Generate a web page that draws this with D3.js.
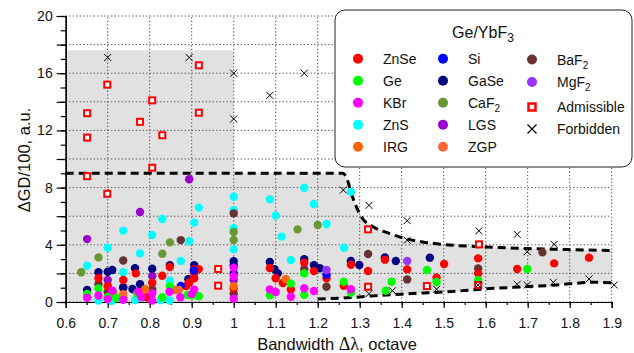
<!DOCTYPE html>
<html><head><meta charset="utf-8">
<script src="https://cdn.jsdelivr.net/npm/d3@7"></script>
<style>body{margin:0;background:#fff}svg{display:block;font-family:Arial,"Liberation Sans",sans-serif}</style>
</head><body><svg id="c" width="634" height="353"></svg>
<script>
// ---- data ----
const xTickValues = [0.6,0.7,0.8,0.9,1.0,1.1,1.2,1.3,1.4,1.5,1.6,1.7,1.8,1.9];
const xTickLabels = ["0.6","0.7","0.8","0.9","1","1.1","1.2","1.3","1.4","1.5","1.6","1.7","1.8","1.9"];
const yTickValues = [0,4,8,12,16,20];
const yTickLabels = ["0","4","8","12","16","20"];

const ZnSe = [[0.678,1.66],[0.70,1.1],[0.737,1.54],[0.767,2.0],[0.806,1.35],[0.793,0.33],[0.83,1.84],[0.848,2.45],[0.887,1.12],[0.894,1.35],[0.906,2.3],[0.917,2.3],[0.906,1.66],[0.906,2.0],[1.0,0.95],[1.086,2.38],[1.1,1.66],[1.117,1.33],[1.136,0.88],[1.168,2.75],[1.191,2.16],[1.221,1.66],[1.262,1.14],[1.279,2.6],[1.32,2.17],[1.36,2.96],[1.413,2.28],[1.483,1.7],[1.501,2.66],[1.582,3.05],[1.582,2.0],[1.582,1.3],[1.675,2.31],[1.763,2.7],[1.846,3.1]];
const Ge = [[0.651,0.56],[0.678,0.95],[0.70,0.35],[0.72,0.3],[0.77,0.6],[0.83,0.33],[0.848,1.1],[0.89,0.5],[0.917,0.4],[0.9,0.45],[1.086,0.47],[1.136,1.3],[1.168,2.0],[1.168,0.5],[1.262,1.42],[1.279,0.65],[1.362,0.79],[1.376,1.42],[1.46,2.24],[1.483,1.4],[1.582,1.53],[1.699,2.31]];
const KBr = [[0.651,0.3],[0.678,0.45],[0.70,0.2],[0.711,0.79],[0.737,0.15],[0.773,0.72],[0.78,0.35],[0.806,0.6],[0.806,0.1],[0.847,0.72],[0.873,0.33],[0.9,0.55],[0.906,0.86],[1.0,2.4],[1.0,1.8],[1.0,0.23],[1.086,0.88],[1.1,0.7],[1.136,0.37],[1.168,0.96],[1.191,0.77],[1.279,0.89]];
const ZnS = [[0.651,2.54],[0.678,0.1],[0.70,3.8],[0.709,0.07],[0.737,4.99],[0.737,2.08],[0.765,0.14],[0.777,3.4],[0.806,4.69],[0.826,0.14],[0.83,5.8],[0.848,1.5],[0.847,0.1],[0.874,2.87],[0.894,4.25],[0.906,5.55],[0.917,6.6],[1.0,7.36],[1.0,6.43],[1.0,5.16],[1.0,3.68],[1.086,7.18],[1.1,6.04],[1.114,4.57],[1.136,2.94],[1.168,7.99],[1.191,6.85],[1.221,5.45],[1.263,3.8],[1.279,7.7]];
const IRG = [[0.713,0.65],[0.789,0.89],[0.86,0.84],[1.0,1.1],[1.124,1.59]];
const Si = [[0.874,1.12],[0.905,2.2],[1.221,1.9]];
const GaSe = [[0.651,0.84],[0.678,2.08],[0.70,2.12],[0.711,2.24],[0.737,1.0],[0.759,0.91],[0.765,2.36],[0.777,1.24],[0.806,2.33],[0.848,2.58],[0.892,1.59],[0.906,2.58],[1.0,2.86],[1.0,2.58],[1.0,2.0],[1.086,2.8],[1.097,2.3],[1.105,2.0],[1.168,3.0],[1.191,2.58],[1.205,2.36],[1.279,2.87],[1.299,2.59],[1.36,3.12],[1.386,2.87],[1.467,3.1]];
const CaF2 = [[0.637,2.08],[0.678,3.12],[0.83,3.38],[0.848,4.17],[1.0,4.9],[1.0,4.33],[1.152,5.08],[1.2,5.38]];
const LGS = [[0.651,4.4],[0.777,6.3],[0.894,8.58],[0.70,1.54],[0.806,1.82],[1.0,1.54],[0.737,1.05]];
const ZGP = [[0.87,0.85],[0.737,0.55]];
const BaF2 = [[0.678,1.24],[0.70,0.7],[0.737,2.9],[0.737,0.3],[0.806,0.88],[0.874,4.33],[1.0,6.2],[1.0,0.58],[1.168,2.3],[1.221,1.07],[1.32,3.36],[1.413,1.58],[1.582,2.35],[1.735,3.47]];
const MgF2 = [[1.221,2.24],[1.413,2.87]];
const admissible = [[0.651,13.2],[0.651,11.5],[0.699,15.2],[0.777,12.6],[0.806,14.1],[0.83,11.66],[0.917,16.55],[0.917,13.24],[0.806,9.39],[0.651,8.8],[0.699,7.57],[0.963,2.31],[0.963,1.14],[1.32,5.08],[1.32,1.07],[1.46,1.12],[1.584,4.03],[1.582,1.19]];
const forbidden = [[0.70,17.1],[0.894,17.1],[1.0,16.0],[1.0,12.8],[1.086,14.45],[1.168,16.0],[1.261,7.83],[1.322,6.76],[1.413,5.69],[1.413,4.32],[1.584,4.98],[1.675,4.73],[1.699,3.52],[1.763,4.03],[1.675,1.24],[1.699,1.19],[1.761,1.38],[1.846,1.61],[1.906,1.19],[1.483,0.89],[1.582,1.19],[1.378,0.79],[1.322,0.58]];

const upperBound = [[0.6,9.0],[1.26,9.0],[1.27,8.6],[1.28,7.6],[1.29,6.8],[1.305,5.9],[1.33,5.3],[1.37,4.8],[1.41,4.42],[1.45,4.2],[1.5,4.02],[1.6,3.85],[1.7,3.74],[1.8,3.66],[1.9,3.6]];
const lowerBound = [[1.2,0.2],[1.25,0.27],[1.3,0.35],[1.35,0.47],[1.4,0.55],[1.45,0.63],[1.5,0.7],[1.55,0.8],[1.6,0.92],[1.65,1.0],[1.7,1.08],[1.75,1.15],[1.8,1.27],[1.85,1.38],[1.9,1.35]];
const shadeTop = [[0.6,0],[0.6,17.6],[1.0,17.6],[1.0,9.0]];

const series = [
  {name:"ZnS", data:ZnS, color:"#00ffff"},
  {name:"CaF2", data:CaF2, color:"#669933"},
  {name:"LGS", data:LGS, color:"#9900cc"},
  {name:"BaF2", data:BaF2, color:"#663333"},
  {name:"GaSe", data:GaSe, color:"#000080"},
  {name:"ZnSe", data:ZnSe, color:"#ff0000"},
  {name:"Si", data:Si, color:"#0000ff"},
  {name:"IRG", data:IRG, color:"#ff6600"},
  {name:"ZGP", data:ZGP, color:"#ff6633"},
  {name:"Ge", data:Ge, color:"#00ff00"},
  {name:"KBr", data:KBr, color:"#ff00ff"},
  {name:"MgF2", data:MgF2, color:"#9933ff"}
];
const colorOf = Object.fromEntries(series.map(s=>[s.name,s.color]));

// ---- drawing ----
const FONT = 'Arial,"Liberation Sans",sans-serif';
const svg = d3.select("#c");
const x = d3.scaleLinear().domain([0.6,1.9]).range([65.7,611.7]);
const y = d3.scaleLinear().domain([0,20]).range([302,16]);

// shaded region
const lineGen = d3.line().x(d=>x(d[0])).y(d=>y(d[1]));
const upperRight = upperBound.filter(d=>d[0]>=1.0);
const regionPts = shadeTop.concat([[1.0,9.0]]).concat(upperRight).concat(lowerBound.slice().reverse()).concat([[1.2,0]]);
svg.append("path").attr("d", lineGen(regionPts)+"Z").attr("fill","#e1e1e1");

// grid
const g = svg.append("g");
d3.range(0,21,2).forEach(v=>{
  g.append("line").attr("x1",x(0.6)).attr("x2",x(1.9)).attr("y1",y(v)).attr("y2",y(v))
   .attr("stroke","#444").attr("stroke-width",1).attr("stroke-dasharray","1.2,2.3");
});
xTickValues.forEach(v=>{
  g.append("line").attr("x1",x(v)).attr("x2",x(v)).attr("y1",y(0)).attr("y2",y(20))
   .attr("stroke","#444").attr("stroke-width",1).attr("stroke-dasharray","1.2,2.3");
});

// axes
const yMinor = svg.append("g").attr("transform",`translate(${x(0.6)},0)`)
  .call(d3.axisLeft(y).tickValues(d3.range(0,21,1)).tickSize(5).tickFormat(""));
const yMajor = svg.append("g").attr("transform",`translate(${x(0.6)},0)`)
  .call(d3.axisLeft(y).tickValues(d3.range(0,21,2)).tickSize(9).tickPadding(4)
     .tickFormat(v=>{const i=yTickValues.indexOf(v);return i>=0?yTickLabels[i]:"";}));
const xMinor = svg.append("g").attr("transform",`translate(0,${y(0)})`)
  .call(d3.axisBottom(x).tickValues(d3.range(0,27).map(i=>0.6+i*0.05)).tickSize(3).tickFormat(""));
const xMajor = svg.append("g").attr("transform",`translate(0,${y(0)})`)
  .call(d3.axisBottom(x).tickValues(xTickValues).tickSize(6).tickPadding(10)
     .tickFormat((v,i)=>xTickLabels[i]));
[yMinor,yMajor,xMinor,xMajor].forEach(a=>{
  a.selectAll(".domain").attr("stroke","#000").attr("stroke-width",1.2);
  a.selectAll(".tick line").attr("stroke","#000").attr("stroke-width",1.2);
  a.selectAll("text").attr("font-size",14).attr("fill","#111").attr("font-family",FONT);
});

// dashed boundaries
const curveGen = d3.line().x(d=>x(d[0])).y(d=>y(d[1])).curve(d3.curveMonotoneX);
svg.append("path").attr("d",curveGen(upperBound)).attr("fill","none").attr("stroke","#000")
  .attr("stroke-width",3).attr("stroke-dasharray","8,5");
svg.append("path").attr("d",curveGen(lowerBound)).attr("fill","none").attr("stroke","#000")
  .attr("stroke-width",3).attr("stroke-dasharray","8,5");

// points
series.forEach(s=>{
  svg.append("g").selectAll("circle").data(s.data).join("circle")
    .attr("cx",d=>x(d[0])).attr("cy",d=>y(d[1])).attr("r",4.2).attr("fill",s.color);
});
svg.append("g").selectAll("rect").data(admissible).join("rect")
  .attr("x",d=>x(d[0])-3).attr("y",d=>y(d[1])-3).attr("width",6).attr("height",6)
  .attr("fill","#fff").attr("stroke","#ff0000").attr("stroke-width",2);
const cross = s => `M${-s},${-s}L${s},${s}M${-s},${s}L${s},${-s}`;
svg.append("g").selectAll("path").data(forbidden).join("path")
  .attr("transform",d=>`translate(${x(d[0])},${y(d[1])})`).attr("d",cross(3.5))
  .attr("stroke","#000").attr("stroke-width",1).attr("fill","none");

// axis titles
const xt = svg.append("text").attr("x",337).attr("y",350).attr("text-anchor","middle").attr("font-size",16.5).attr("fill","#111");
xt.append("tspan").text("Bandwidth ");
xt.append("tspan").attr("font-family",'"Liberation Serif","Times New Roman",serif').attr("font-size",18).text("Δλ");
xt.append("tspan").text(", octave");
svg.append("text").attr("transform","translate(30,160) rotate(-90)").attr("text-anchor","middle").attr("font-size",16.5).attr("fill","#111")
  .text("ΔGD/100, a.u.");

// legend
const lg = svg.append("g");
lg.append("rect").attr("x",335).attr("y",10).attr("width",297).attr("height",157).attr("rx",10)
  .attr("fill","#fff").attr("stroke","#222").attr("stroke-width",1);
const t = lg.append("text").attr("x",483).attr("y",38).attr("text-anchor","middle").attr("font-size",16).attr("fill","#111");
t.append("tspan").text("Ge/YbF");
t.append("tspan").attr("dy",4).attr("font-size",12).text("3");

const legendCols = [
  {mx:358, tx:383, ys:[58.7,80.7,102.7,124.7,146.7], items:["ZnSe","Ge","KBr","ZnS","IRG"]},
  {mx:443, tx:468, ys:[58.7,80.7,102.7,124.7,146.7], items:["Si","GaSe","CaF2","LGS","ZGP"]},
  {mx:532, tx:557, ys:[59.5,82,107,129], items:["BaF2","MgF2","Admissible","Forbidden"]}
];
legendCols.forEach(c=>{
  c.items.forEach((name,i)=>{
    const yy = c.ys[i];
    if (name==="Admissible") {
      lg.append("rect").attr("x",c.mx-3.5).attr("y",yy-3.5).attr("width",7).attr("height",7)
        .attr("fill","#fff").attr("stroke","#ff0000").attr("stroke-width",2.5);
    } else if (name==="Forbidden") {
      lg.append("path").attr("transform",`translate(${c.mx},${yy})`).attr("d",cross(4.5))
        .attr("stroke","#000").attr("stroke-width",1.2);
    } else {
      lg.append("circle").attr("cx",c.mx).attr("cy",yy).attr("r",5).attr("fill",colorOf[name]);
    }
    const tx = lg.append("text").attr("x",c.tx).attr("y",yy+5).attr("font-size",14).attr("fill","#111");
    const m = name.match(/^(.*F)2$/);
    if (m) { tx.append("tspan").text(m[1]); tx.append("tspan").attr("dy",4).attr("font-size",10).text("2"); }
    else tx.text(name);
  });
});
</script></body></html>
